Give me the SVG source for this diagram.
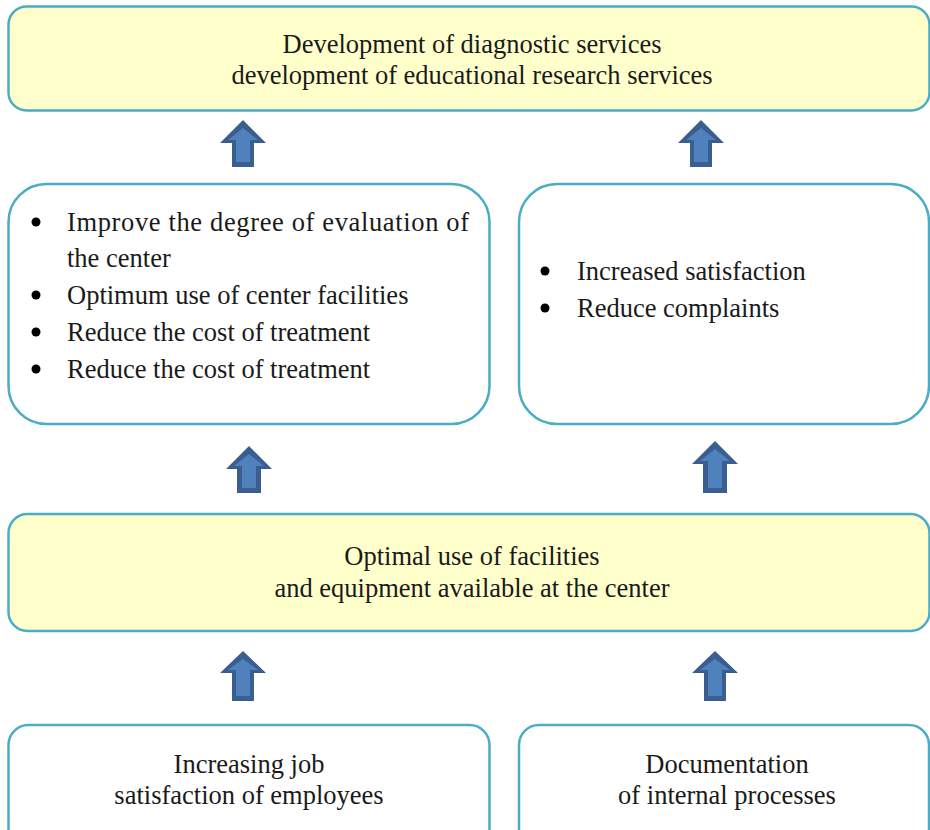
<svg xmlns="http://www.w3.org/2000/svg" width="930" height="830" viewBox="0 0 930 830">
<defs>
<style>
.box{stroke:#4BACC6;stroke-width:2.5;}
.yel{fill:#FFFFCC;}
.wht{fill:#FFFFFF;}
.b{fill:#000000;}
.ao{fill:#3B5E91;}
.ai{fill:#4F81BD;}
</style>
</defs>
<rect width="930" height="830" fill="#FFFFFF"/>

<g id="node-top" font-family="Liberation Serif, Times New Roman, serif" font-size="26.5" fill="#1a1a1a">
<rect class="box yel" x="8.5" y="6.5" width="921" height="104" rx="18"/>
<text text-anchor="middle" x="472" y="53">Development of diagnostic services</text>
<text text-anchor="middle" x="472" y="84">development of educational research services</text>
</g>

<g id="node-left-mid" font-family="Liberation Serif, Times New Roman, serif" font-size="26.5" fill="#1a1a1a">
<rect class="box wht" x="8.5" y="184" width="481" height="240" rx="38"/>
<circle class="b" cx="36" cy="222" r="4.5"/>
<text x="67" y="231" textLength="402" lengthAdjust="spacing">Improve the degree of evaluation of</text>
<text x="67" y="267">the center</text>
<circle class="b" cx="36" cy="295" r="4.5"/>
<text x="67" y="304">Optimum use of center facilities</text>
<circle class="b" cx="36" cy="332" r="4.5"/>
<text x="67" y="341">Reduce the cost of treatment</text>
<circle class="b" cx="36" cy="369" r="4.5"/>
<text x="67" y="378">Reduce the cost of treatment</text>
</g>

<g id="node-right-mid" font-family="Liberation Serif, Times New Roman, serif" font-size="26.5" fill="#1a1a1a">
<rect class="box wht" x="519" y="184" width="410" height="240" rx="38"/>
<circle class="b" cx="545" cy="271" r="4.5"/>
<text x="577" y="280">Increased satisfaction</text>
<circle class="b" cx="545" cy="308" r="4.5"/>
<text x="577" y="317">Reduce complaints</text>
</g>

<g id="node-optimal" font-family="Liberation Serif, Times New Roman, serif" font-size="26.5" fill="#1a1a1a">
<rect class="box yel" x="8.5" y="514" width="921" height="117" rx="19"/>
<text text-anchor="middle" x="472" y="565">Optimal use of facilities</text>
<text text-anchor="middle" x="472" y="597">and equipment available at the center</text>
</g>

<g id="node-job" font-family="Liberation Serif, Times New Roman, serif" font-size="26.5" fill="#1a1a1a">
<rect class="box wht" x="8.5" y="725" width="481" height="130" rx="20"/>
<text text-anchor="middle" x="249" y="773">Increasing job</text>
<text text-anchor="middle" x="249" y="804">satisfaction of employees</text>
</g>

<g id="node-doc" font-family="Liberation Serif, Times New Roman, serif" font-size="26.5" fill="#1a1a1a">
<rect class="box wht" x="519" y="725" width="410" height="130" rx="20"/>
<text text-anchor="middle" x="727" y="773">Documentation</text>
<text text-anchor="middle" x="727" y="804">of internal processes</text>
</g>

<g id="connectors">
<path class="ao" d="M243,120 L266,143 L254,143 L254,167 L232,167 L232,143 L220,143 Z"/>
<path class="ai" d="M243,128 L258,140 L250,140 L250,162 L236,162 L236,140 L228,140 Z"/>
<path class="ao" d="M701,120 L724,143 L712,143 L712,167 L690,167 L690,143 L678,143 Z"/>
<path class="ai" d="M701,128 L716,140 L708,140 L708,162 L694,162 L694,140 L686,140 Z"/>
<path class="ao" d="M249,446 L272,469 L261,469 L261,493 L237,493 L237,469 L226,469 Z"/>
<path class="ai" d="M249,454 L264,466 L256,466 L256,488 L242,488 L242,466 L234,466 Z"/>
<path class="ao" d="M715,441 L738,464 L727,464 L727,493 L703,493 L703,464 L692,464 Z"/>
<path class="ai" d="M715,449 L730,461 L722,461 L722,488 L708,488 L708,461 L700,461 Z"/>
<path class="ao" d="M243,651 L266,673 L254,673 L254,701 L232,701 L232,673 L220,673 Z"/>
<path class="ai" d="M243,659 L258,670 L250,670 L250,696 L236,696 L236,670 L228,670 Z"/>
<path class="ao" d="M715,651 L738,673 L726,673 L726,701 L704,701 L704,673 L692,673 Z"/>
<path class="ai" d="M715,659 L730,670 L722,670 L722,696 L708,696 L708,670 L700,670 Z"/>
</g>
</svg>
